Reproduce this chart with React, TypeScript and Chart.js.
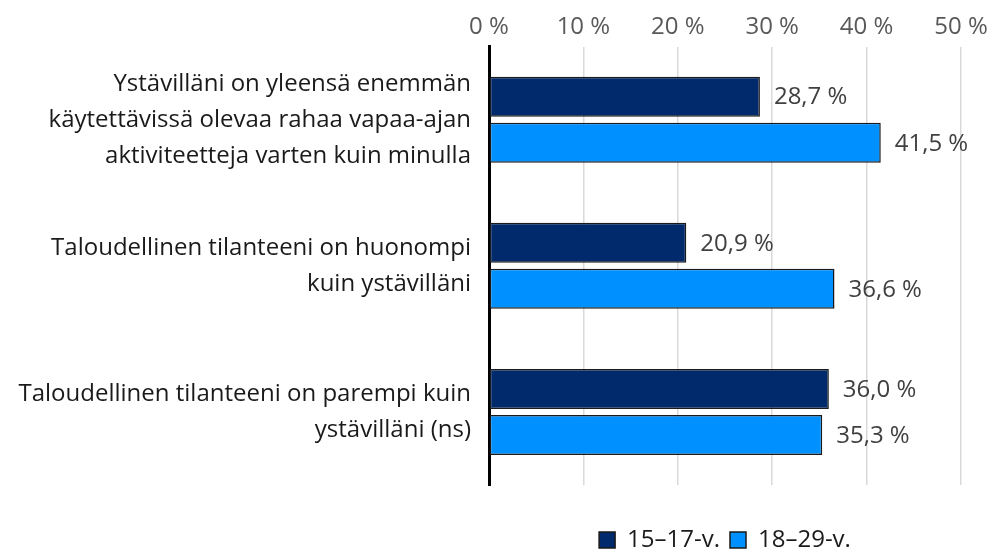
import React, { useEffect, useRef } from "react";
import { Chart, registerables } from "chart.js";

Chart.register(...registerables);

const categories: string[][] = [
  ["Ystävilläni on yleensä enemmän", "käytettävissä olevaa rahaa vapaa-ajan", "aktiviteetteja varten kuin minulla"],
  ["Taloudellinen tilanteeni on huonompi", "kuin ystävilläni"],
  ["Taloudellinen tilanteeni on parempi kuin", "ystävilläni (ns)"],
];
const seriesNames = ["15–17-v.", "18–29-v."];
const values1517 = [28.7, 20.9, 36.0];
const values1829 = [41.5, 36.6, 35.3];
const xTicks = [0, 10, 20, 30, 40, 50];

const FONT = "'Open Sans'";
const FS = 24;

const fmt = (v: number) => v.toFixed(1).replace(".", ",") + " %";

const dataLabelPlugin = {
  id: "dataLabels",
  afterDatasetsDraw(chart: any) {
    const ctx = chart.ctx;
    ctx.save();
    ctx.font = `${FS}px ${FONT}`;
    ctx.fillStyle = "#404040";
    ctx.textAlign = "left";
    ctx.textBaseline = "middle";
    chart.data.datasets.forEach((ds: any, di: number) => {
      const meta = chart.getDatasetMeta(di);
      meta.data.forEach((el: any, i: number) => {
        ctx.fillText(fmt(ds.data[i]), el.x + 14, el.y + 1);
      });
    });
    ctx.restore();
  },
};

export default function App() {
  const ref = useRef<HTMLCanvasElement | null>(null);
  useEffect(() => {
    if (!ref.current) return;
    const chart = new Chart(ref.current, {
      type: "bar",
      data: {
        labels: categories,
        datasets: [
          {
            label: seriesNames[0],
            data: values1517,
            backgroundColor: "#002A6C",
            borderColor: "#1a1a1a",
            borderWidth: 1.5,
            borderSkipped: false,
          },
          {
            label: seriesNames[1],
            data: values1829,
            backgroundColor: "#0090FF",
            borderColor: "#1a1a1a",
            borderWidth: 1.5,
            borderSkipped: false,
          },
        ],
      },
      options: {
        indexAxis: "y",
        animation: false,
        responsive: true,
        maintainAspectRatio: false,
        layout: { padding: { left: 0, right: 37, top: 8.6, bottom: 0 } },
        scales: {
          x: {
            position: "top",
            min: 0,
            max: 50,
            afterBuildTicks: (s: any) => {
              s.ticks = xTicks.map((v) => ({ value: v }));
            },
            ticks: {
              callback: (v: any) => `${v} %`,
              color: "#595959",
              font: { family: FONT, size: FS },
              padding: 4.6,
            },
            grid: { color: "#d9d9d9", lineWidth: 1.5, drawTicks: false },
            border: { display: false },
          },
          y: {
            afterFit: (s: any) => {
              s.width = 489;
              s.paddingTop = 0;
              s.paddingBottom = 0;
            },
            ticks: {
              color: "#1a1a1a",
              font: { family: FONT, size: FS, lineHeight: 1.5 },
              padding: 18,
            },
            grid: { display: false, drawTicks: false },
            border: { display: true, color: "#000", width: 3 },
          },
        },
        datasets: {
          bar: { categoryPercentage: 0.63, barPercentage: 0.87 },
        },
        plugins: {
          legend: {
            position: "bottom",
            fullSize: false,
            title: {
              display: true,
              text: " ",
              font: { size: 10, lineHeight: 1 },
              padding: { top: 12, bottom: 11 },
            },
            labels: {
              boxWidth: 16,
              boxHeight: 16,
              color: "#1a1a1a",
              font: { family: FONT, size: FS },
              padding: 10,
            },
          },
          tooltip: { enabled: false },
        },
      } as any,
      plugins: [dataLabelPlugin],
    });
    return () => chart.destroy();
  }, []);
  return (
    <div style={{ position: "fixed", left: 0, top: 0, width: 998, height: 555, overflow: "hidden", background: "#fff" }}>
      <div style={{ position: "relative", width: 998, height: 562 }}>
        <canvas ref={ref} />
      </div>
    </div>
  );
}
